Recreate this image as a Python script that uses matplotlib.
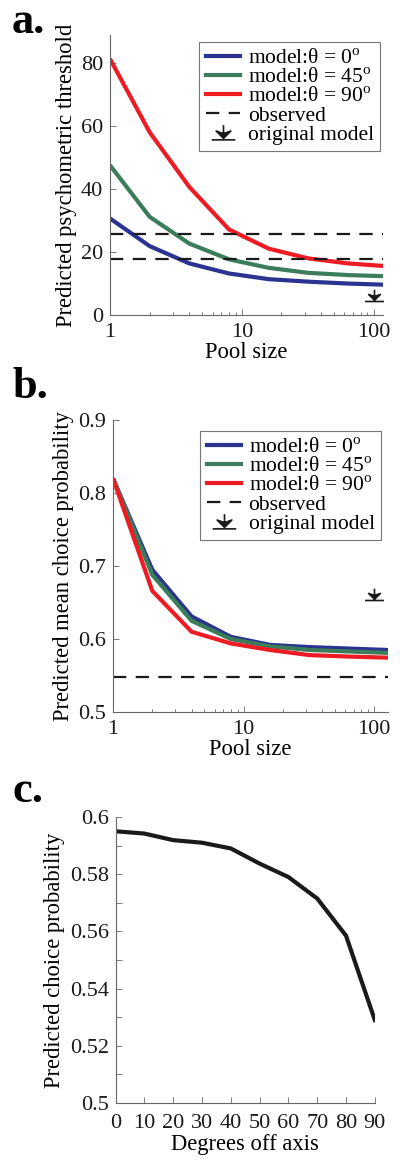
import numpy as np
import matplotlib
matplotlib.use('Agg')
import matplotlib.pyplot as plt
from matplotlib.path import Path
from matplotlib.lines import Line2D

plt.rcParams['font.family'] = ['Liberation Serif', 'DejaVu Serif']
plt.rcParams['mathtext.fontset'] = 'custom'
plt.rcParams['mathtext.rm'] = 'Liberation Serif'

# --- data ---
POOL = [1, 2, 4, 8, 16, 32, 64, 128]
THETA_LABELS = ['0', '45', '90']

thr_0 = [30.7, 21.9, 16.4, 13.2, 11.4, 10.6, 10.0, 9.6]
thr_45 = [47.6, 31.2, 22.7, 17.7, 15.0, 13.4, 12.7, 12.3]
thr_90 = [81.4, 58.1, 40.7, 27.2, 21.1, 18.0, 16.4, 15.5]
thr_observed = [25.9, 17.8]
thr_original = (100, 4.5)

cp_0 = [0.820, 0.695, 0.631, 0.603, 0.592, 0.589, 0.587, 0.585]
cp_45 = [0.820, 0.688, 0.625, 0.600, 0.590, 0.585, 0.583, 0.581]
cp_90 = [0.820, 0.666, 0.610, 0.594, 0.585, 0.578, 0.576, 0.5745]
cp_observed = [0.548]
cp_original = (100, 0.653)

degrees = [0, 10, 20, 30, 40, 50, 60, 70, 80, 90]
cp_deg = [0.595, 0.5942, 0.5919, 0.5910, 0.5890, 0.5837, 0.5790, 0.5715, 0.5585, 0.529]

COLORS = ['#2b3390', '#3b7d5a', '#ed1c24']
FS = 16.3
TICK_FS = 16
LEG_FS = 15.5


def arrow_marker(base):
    # down arrow sitting on a bar; bar at y=base
    v = [(-0.8, base), (0.8, base),
         (0, base + 0.12), (0, base + 1.0),
         (-0.5, base + 0.6), (0, base + 0.1), (0.5, base + 0.6), (0, base + 0.42), (-0.5, base + 0.6)]
    c = [Path.MOVETO, Path.LINETO,
         Path.MOVETO, Path.LINETO,
         Path.MOVETO, Path.LINETO, Path.LINETO, Path.LINETO, Path.CLOSEPOLY]
    return Path(v, c)


def style_axes(ax, xpad=6):
    for s in ['top', 'right']:
        ax.spines[s].set_visible(False)
    for s in ['left', 'bottom']:
        ax.spines[s].set_color('#666666')
        ax.spines[s].set_linewidth(0.8)
    ax.tick_params(which='both', direction='in', colors='#666666', labelcolor='#1a1a1a',
                   labelsize=TICK_FS, width=0.6)
    ax.tick_params(which='major', length=4)
    ax.tick_params(which='minor', length=2.5)
    ax.tick_params(axis='y', pad=5)
    ax.tick_params(axis='x', pad=xpad)


def pool_panel(ax, series, observed, original, xmax, ylim, yticks, ylabel, leg_anchor):
    for vals, col in zip(series, COLORS):
        ax.plot(POOL, vals, color=col, lw=3, solid_capstyle='butt')
    for y in observed:
        ax.axhline(y, color='#1a1a1a', lw=1.6, dashes=(6, 4.2))
    ax.plot([original[0]], [original[1]], linestyle='none', marker=arrow_marker(0.0),
            ms=17, color='#1a1a1a', mew=1.2)
    ax.set_xscale('log')
    ax.set_xlim(1, xmax)
    ax.set_ylim(*ylim)
    ax.set_xticks([1, 10, 100], labels=['1', '10', '100'])
    ax.xaxis.set_minor_formatter(plt.NullFormatter())
    ax.set_yticks(yticks, labels=[f'{t:g}' for t in yticks])
    ax.set_xlabel('Pool size', fontsize=FS, labelpad=0)
    ax.set_ylabel(ylabel, fontsize=FS, labelpad=3)
    style_axes(ax)

    handles = [Line2D([], [], color=c, lw=3) for c in COLORS]
    handles.append(Line2D([], [], color='#1a1a1a', lw=1.6, dashes=(6, 4.2)))
    handles.append(Line2D([], [], linestyle='none', marker=arrow_marker(-0.5), ms=17,
                          color='#1a1a1a', mew=1.2))
    labels = [f'model:θ = {t}$^{{\\rm o}}$' for t in THETA_LABELS] + ['observed', 'original model']
    leg = ax.legend(handles, labels, loc='upper right', bbox_to_anchor=leg_anchor,
                    borderaxespad=0, fontsize=LEG_FS, frameon=True, fancybox=False,
                    framealpha=1, edgecolor='#777777', handlelength=1.6,
                    handletextpad=0.35, labelspacing=-0.05, borderpad=0.3)
    leg.get_frame().set_linewidth(0.8)


fig = plt.figure(figsize=(4, 11.75), dpi=100)

ax_a = fig.add_axes([0.275, 0.7319, 0.6825, 0.2383])
pool_panel(ax_a, [thr_0, thr_45, thr_90], thr_observed, thr_original, 118,
           (0, 89), [0, 20, 40, 60, 80], 'Predicted psychometric threshold', (0.99, 0.975))

ax_b = fig.add_axes([0.2825, 0.394, 0.6875, 0.2485])
pool_panel(ax_b, [cp_0, cp_45, cp_90], cp_observed, cp_original, 128,
           (0.5, 0.9), [0.5, 0.6, 0.7, 0.8, 0.9], 'Predicted mean choice probability', (0.975, 0.962))

ax_c = fig.add_axes([0.289, 0.0613, 0.648, 0.2434])
ax_c.plot(degrees, cp_deg, color='#1a1a1a', lw=3)
ax_c.set_xlim(0, 90)
ax_c.set_ylim(0.5, 0.6)
ax_c.set_xticks(degrees)
yt = np.round(np.arange(0.5, 0.6001, 0.01), 2)
ax_c.set_yticks(yt, labels=[f'{t:g}' if i % 2 == 0 else '' for i, t in enumerate(yt)])
ax_c.set_xlabel('Degrees off axis', fontsize=FS, labelpad=1)
ax_c.set_ylabel('Predicted choice probability', fontsize=FS, labelpad=3)
style_axes(ax_c, xpad=8)

for lab, yb in [('a.', 1 - 33 / 1175), ('b.', 1 - 398 / 1175), ('c.', 1 - 802 / 1175)]:
    fig.text(0.03, yb, lab, fontsize=32, fontweight='bold', va='baseline', ha='left')

fig.savefig('out.png', dpi=100)
